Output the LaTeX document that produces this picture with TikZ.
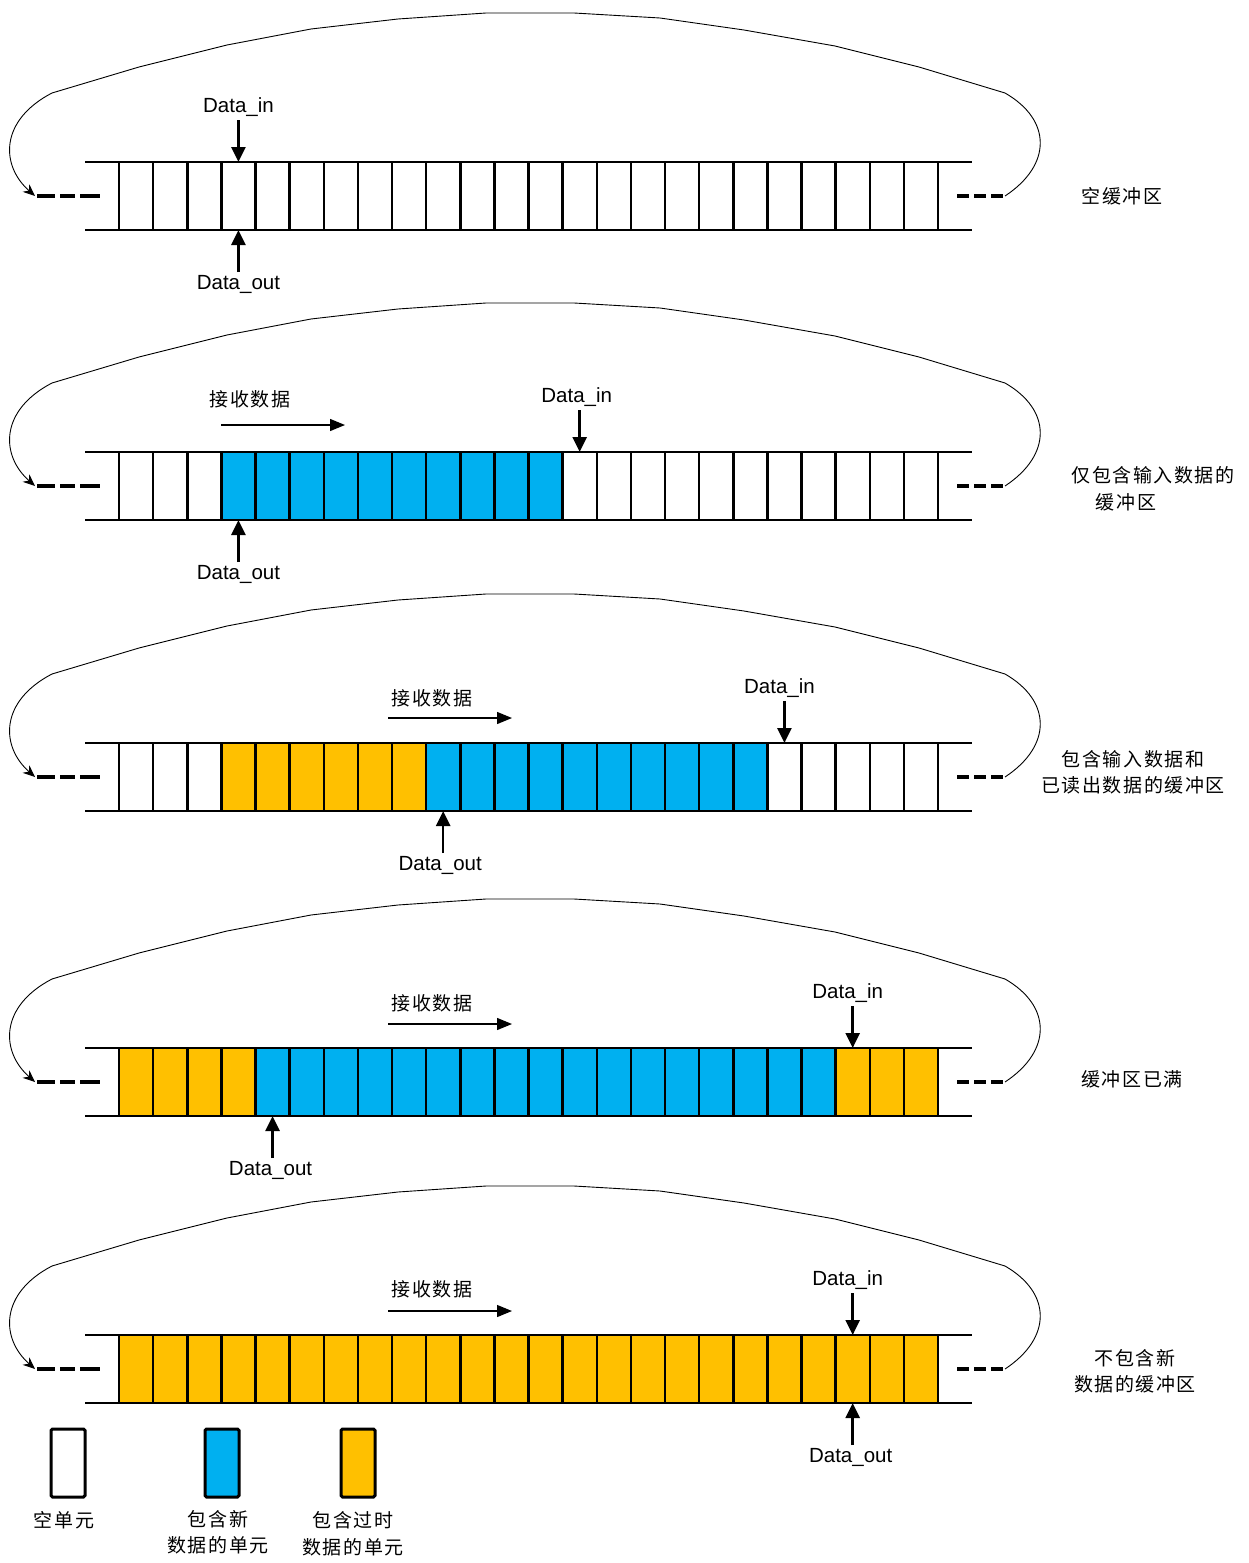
\documentclass[tikz,border=0pt]{standalone}
\usepackage{fontspec}
\setmainfont{Liberation Sans}
\newfontfamily\cjk[LetterSpace=8]{Noto Sans CJK SC}
\usetikzlibrary{arrows.meta,positioning,calc}

\definecolor{cw}{HTML}{FFFFFF}
\definecolor{cb}{HTML}{00B0F0}
\definecolor{co}{HTML}{FFC000}

\tikzset{
  cell/.style={draw, line width=2.5pt, minimum width=34.125pt, minimum height=68pt,
               inner sep=0pt, outer sep=0pt},
  keybox/.style={draw, line width=3pt, rounded corners=1.5pt, minimum width=34pt,
                 minimum height=68pt, inner sep=0pt},
  rail/.style={line width=2.5pt},
  tailL/.style={line width=4pt, dash pattern=on 18pt off 5pt on 15pt off 5pt on 20pt off 5pt},
  tailR/.style={line width=4pt, dash pattern=on 12pt off 5pt},
  loopline/.style={line width=0.9pt, line join=round, -{Stealth[length=12pt,width=10pt]}},
  ptr/.style={line width=2.5pt, -{Triangle[length=15pt,width=14pt]}},
  flow/.style={line width=1.3pt, -{Triangle[length=15pt,width=12pt]}},
  ptrlabel/.style={font=\fontsize{20.5}{24}\selectfont, inner sep=3pt,
                   text height=14pt, text depth=4pt},
  cjklabel/.style={font=\cjk\fontsize{19}{26.5}\selectfont, inner sep=0pt, align=center},
}

% one circular buffer: #1 name, #2 y of its centre line, #3 colours of the 24 cells
\newcommand\fifo[3]{%
\begin{scope}[shift={(0,#2-196)}]
  \foreach \c [count=\i from 0] in {#3}
    \node[cell, fill=\c] (#1c\i) at ({119+34.125*(\i+0.5)},196) {};
  \draw[rail] ([xshift=-34pt]#1c0.north west) -- ([xshift=34pt]#1c23.north east);
  \draw[rail] ([xshift=-34pt]#1c0.south west) -- ([xshift=34pt]#1c23.south east);
  \coordinate (#1lin) at (100,196);
  \coordinate (#1lout) at (37,196);
  \coordinate (#1rin) at (957,196);
  \coordinate (#1rout) at (1005,196);
  \coordinate (#1arr) at (35,196);
  \draw[tailL] (#1lout) -- (#1lin);
  \draw[tailR] (#1rin) -- (#1rout);
  \draw[loopline] (#1rout) .. controls (1052,165) and (1052,120) .. (1005,93)
    -- (919,67) -- (835,46) -- (744,30) -- (660,18) -- (574,13) -- (486,13)
    -- (398,19) -- (311,29) -- (227,45) -- (139,67) -- (52,93)
    .. controls (0,120) and (0,165) .. (#1arr);
\end{scope}}

\begin{document}
\begin{tikzpicture}[x=1pt, y=-1pt]
\useasboundingbox (0,0) rectangle (1249,1563);

% ---- the five buffer states ----
\fifo{r1}{196}{cw,cw,cw,cw,cw,cw,cw,cw,cw,cw,cw,cw,cw,cw,cw,cw,cw,cw,cw,cw,cw,cw,cw,cw}
\fifo{r2}{486}{cw,cw,cw,cb,cb,cb,cb,cb,cb,cb,cb,cb,cb,cw,cw,cw,cw,cw,cw,cw,cw,cw,cw,cw}
\fifo{r3}{777}{cw,cw,cw,co,co,co,co,co,co,cb,cb,cb,cb,cb,cb,cb,cb,cb,cb,cw,cw,cw,cw,cw}
\fifo{r4}{1082}{co,co,co,co,cb,cb,cb,cb,cb,cb,cb,cb,cb,cb,cb,cb,cb,cb,cb,cb,cb,co,co,co}
\fifo{r5}{1369}{co,co,co,co,co,co,co,co,co,co,co,co,co,co,co,co,co,co,co,co,co,co,co,co}

% ---- read / write pointers ----
\node[ptrlabel, above=42pt of r1c3.north] (r1in) {Data\_in};
\draw[ptr] (r1in) -- (r1c3.north);
\node[ptrlabel, below=42pt of r1c3.south] (r1out) {Data\_out};
\draw[ptr] (r1out) -- (r1c3.south);

\node[ptrlabel, above=42pt of r2c13.north, xshift=-3pt] (r2in) {Data\_in};
\draw[ptr] (r2in.south -| r2c13.north) -- (r2c13.north);
\node[ptrlabel, below=42pt of r2c3.south] (r2out) {Data\_out};
\draw[ptr] (r2out) -- (r2c3.south);

\node[ptrlabel, above=42pt of r3c19.north, xshift=-5pt] (r3in) {Data\_in};
\draw[ptr] (r3in.south -| r3c19.north) -- (r3c19.north);
\node[ptrlabel, below=42pt of r3c9.south, xshift=-3pt] (r3out) {Data\_out};
\draw[ptr] (r3out.north -| r3c9.south) -- (r3c9.south);

\node[ptrlabel, above=42pt of r4c21.north, xshift=-5pt] (r4in) {Data\_in};
\draw[ptr] (r4in.south -| r4c21.north) -- (r4c21.north);
\node[ptrlabel, below=42pt of r4c4.south, xshift=-2pt] (r4out) {Data\_out};
\draw[ptr] (r4out.north -| r4c4.south) -- (r4c4.south);

\node[ptrlabel, above=42pt of r5c21.north, xshift=-5pt] (r5in) {Data\_in};
\draw[ptr] (r5in.south -| r5c21.north) -- (r5c21.north);
\node[ptrlabel, below=42pt of r5c21.south, xshift=-2pt] (r5out) {Data\_out};
\draw[ptr] (r5out.north -| r5c21.south) -- (r5c21.south);

% ---- direction of incoming data ----
\node[cjklabel] (r2rx) at (250,399) {接收数据};
\coordinate (r2fa) at (221,425); \coordinate (r2fb) at (345,425);
\draw[flow] (r2fa) -- (r2fb);
\node[cjklabel] (r3rx) at (432,698) {接收数据};
\coordinate (r3fa) at (388,718); \coordinate (r3fb) at (512,718);
\draw[flow] (r3fa) -- (r3fb);
\node[cjklabel] (r4rx) at (432,1003) {接收数据};
\coordinate (r4fa) at (388,1024); \coordinate (r4fb) at (512,1024);
\draw[flow] (r4fa) -- (r4fb);
\node[cjklabel] (r5rx) at (432,1289) {接收数据};
\coordinate (r5fa) at (388,1311); \coordinate (r5fb) at (512,1311);
\draw[flow] (r5fa) -- (r5fb);

% ---- state captions ----
\node[cjklabel] (cap1) at (1122,196) {空缓冲区};
\node[cjklabel] (cap2a) at (1153,475) {仅包含输入数据的};
\node[cjklabel] (cap2b) at (1126,502) {缓冲区};
\node[cjklabel] (cap3) at (1133,772.5) {包含输入数据和\\已读出数据的缓冲区};
\node[cjklabel] (cap4) at (1132,1079) {缓冲区已满};
\node[cjklabel] (cap5) at (1135,1371) {不包含新\\数据的缓冲区};

% ---- key ----
\node[keybox, fill=cw] (kw) at (68,1463) {};
\node[keybox, fill=cb] (kb) at (222,1463) {};
\node[keybox, fill=co] (ko) at (358,1463) {};
\node[cjklabel] (kwt) at (64,1520) {空单元};
\node[cjklabel] (kbt) at (218,1532) {包含新\\数据的单元};
\node[cjklabel] (kot) at (353,1533.5) {包含过时\\数据的单元};
\end{tikzpicture}
\end{document}
